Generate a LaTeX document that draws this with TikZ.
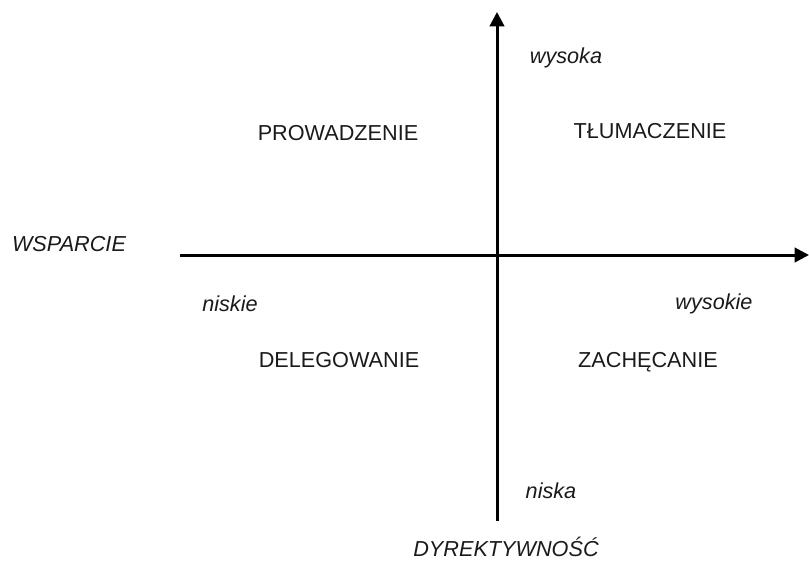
\documentclass[tikz,border=0pt]{standalone}
\usepackage{fontspec}
\setmainfont{Liberation Sans}
\usepackage{tikz}
\usetikzlibrary{arrows.meta}
\definecolor{axisInk}{HTML}{000000}
\definecolor{textInk}{HTML}{1A1A1A}

\begin{document}
\begin{tikzpicture}[x=0.025cm,y=-0.025cm,
  axis/.style={line width=0.075cm,axisInk,-{Triangle[length=0.36cm,width=0.36cm]}},
  quad/.style={textInk,font=\fontsize{15.4}{18}\selectfont},
  lbl/.style={textInk,font=\fontsize{15.4}{18}\selectfont\itshape}]
  \useasboundingbox (0,0) rectangle (809,565);
  % sketch: situational leadership grid
  \coordinate (hl) at (180,255);
  \coordinate (hr) at (809,255);
  \coordinate (vb) at (497,521);
  \coordinate (vt) at (497,12);
  \draw[axis] (hl) -- (hr);
  \draw[axis] (vb) -- (vt);
  \node[quad] (prow) at (338,133) {PROWADZENIE};
  \node[quad] (tlum) at (650,131) {TŁUMACZENIE};
  \node[quad] (dele) at (339,360) {DELEGOWANIE};
  \node[quad] (zach) at (648,362) {ZACHĘCANIE};
  \node[lbl] (wsp) at (69,244) {WSPARCIE};
  \node[lbl] (dyr) at (506,547) {DYREKTYWNOŚĆ};
  \node[lbl] (wysoka) at (566,58) {wysoka};
  \node[lbl] (niska) at (551,491) {niska};
  \node[lbl] (niskie) at (230,304) {niskie};
  \node[lbl] (wysokie) at (714,304) {wysokie};
\end{tikzpicture}
\end{document}
